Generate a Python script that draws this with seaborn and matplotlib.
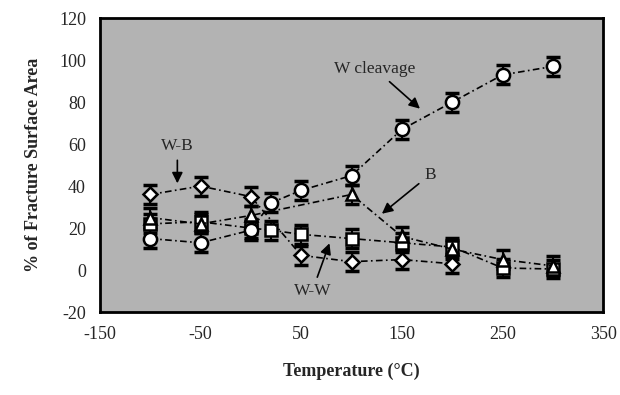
import pandas as pd
import numpy as np
import matplotlib
matplotlib.use('Agg')
import matplotlib.pyplot as plt
import seaborn as sns

# values
temp_wc = [-100, -50, 0, 20, 50, 100, 150, 200, 250, 300]
w_cleavage = [15, 13, 19, 32, 38, 45, 67, 80, 93, 97]

temp_wb = [-100, -50, 0, 50, 100, 150, 200]
w_b = [36, 40, 35, 7, 4, 5, 3]

temp_ww = [-100, -50, 0, 20, 50, 100, 150, 200, 250, 300]
w_w = [22, 23, 20, 19, 17, 15, 13, 11, 1, 0.5]

temp_b = [-100, -50, 0, 100, 150, 200, 250, 300]
b = [25, 22, 26, 36, 16, 10, 5, 2]

err = 4.5

sns.set_theme(style='white')
plt.rcParams['font.family'] = ['Liberation Serif', 'DejaVu Serif']
plt.rcParams['axes.unicode_minus'] = False

fig = plt.figure(figsize=(6.2, 3.95), dpi=100)
ax = fig.add_axes([0.161, 0.21, 0.812, 0.744])
ax.set_facecolor('#b3b3b3')

series = [
    ('W-W', temp_ww, w_w, 's', 9),
    ('B', temp_b, b, '^', 9),
    ('W-B', temp_wb, w_b, 'D', 7),
    ('W cleavage', temp_wc, w_cleavage, 'o', 9.5),
]

for name, t, v, m, ms in series:
    ax.errorbar(t, v, yerr=err, fmt='none', ecolor='black', elinewidth=1.5,
                capsize=5, capthick=2.5, zorder=2)

for name, t, v, m, ms in series:
    d = pd.DataFrame({'T': t, 'pct': v})
    sns.lineplot(data=d, x='T', y='pct', color='black', marker=m,
                 dashes=False, linestyle=(0, (4, 2, 1, 2)), linewidth=1.2,
                 markersize=ms, markerfacecolor='white', markeredgecolor='black',
                 markeredgewidth=1.8, ax=ax, sort=False, zorder=3)

ax.set_xlim(-150, 350)
ax.set_ylim(-20, 120)
ax.set_xticks([-150, -50, 50, 150, 250, 350])
ax.set_yticks(np.arange(-20, 121, 20))
ax.tick_params(axis='both', labelsize=13, length=0, pad=10)
for s in ax.spines.values():
    s.set_color('black')
    s.set_linewidth(2)

ax.set_xlabel('Temperature (\u00b0C)', fontsize=13, fontweight='bold', labelpad=14)
ax.set_ylabel('% of Fracture Surface Area', fontsize=13, fontweight='bold', labelpad=12)

arrow = dict(arrowstyle='-|>', color='black', lw=1.2, mutation_scale=16)
ax.annotate('W cleavage', xy=(170, 76), xytext=(123, 96), fontsize=12.5,
            ha='center', va='center', arrowprops=arrow)
ax.annotate('W-B', xy=(-73, 40), xytext=(-73, 59), fontsize=12.5,
            ha='center', va='center', arrowprops=arrow)
ax.annotate('B', xy=(128, 26), xytext=(178, 45.5), fontsize=12.5,
            ha='center', va='center', arrowprops=arrow)
ax.annotate('W-W', xy=(79, 14), xytext=(61, -10), fontsize=12.5,
            ha='center', va='center', arrowprops=arrow)

fig.savefig('out.png', dpi=100)
